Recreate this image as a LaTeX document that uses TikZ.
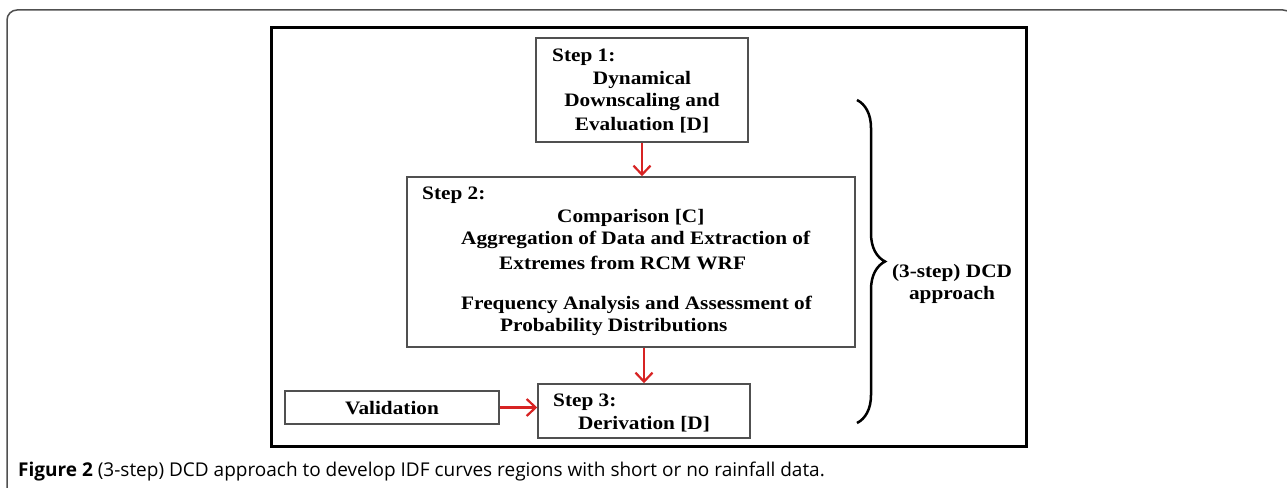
\documentclass[tikz,border=0pt]{standalone}
\usepackage{fontspec}
\setmainfont{Liberation Serif}
\newfontfamily\boxfont[FakeStretch=1.12]{Liberation Serif}
\newfontfamily\capfont{Open Sans}
\usetikzlibrary{arrows.meta,decorations.pathreplacing}
\definecolor{boxgray}{RGB}{80,80,80}
\definecolor{arrowred}{RGB}{215,35,35}
\begin{document}
\begin{tikzpicture}[
x=1pt, y=-1pt,
box/.style={draw=boxgray, line width=1.5pt, rectangle, inner sep=0pt},
txt/.style={font=\boxfont\bfseries\fontsize{19}{22.5}\selectfont, inner sep=0pt},
redarrow/.style={draw=arrowred, line width=2.2pt, -{Straight Barb[length=9pt,width=17pt]}}
]
\clip (0,0) rectangle (1287,487);
\draw[boxgray, line width=1.5pt, rounded corners=10pt] (7,520) -- (7,10) -- (1293,10) -- (1293,520);
\draw[black, line width=3pt] (271,28) rectangle (1026,446);

\node (step1) [box, minimum width=212pt, minimum height=104pt] at (642,90) {};
\node (step2) [box, minimum width=448pt, minimum height=170pt] at (631,262) {};
\node (step3) [box, minimum width=212pt, minimum height=54pt] at (644,411) {};
\node (valid) [box, minimum width=214pt, minimum height=33pt] at (392,407.5) {};

\node (s1) [txt, anchor=west] at (552,57) {Step 1:};
\node (s1a) [txt] at (642,80) {Dynamical};
\node (s1b) [txt] at (642,102) {Downscaling and};
\node (s1c) [txt] at (642,125) {Evaluation [D]};

\node (s2) [txt, anchor=west] at (422,195) {Step 2:};
\node (s2a) [txt, anchor=west] at (557,218) {Comparison [C]};
\node (s2b) [txt, anchor=west] at (461,240) {Aggregation of Data and Extraction of};
\node (s2c) [txt, anchor=west] at (499,263) {Extremes from RCM WRF};
\node (s2d) [txt, anchor=west] at (461,305) {Frequency Analysis and Assessment of};
\node (s2e) [txt, anchor=west] at (500,327) {Probability Distributions};

\node (s3) [txt, anchor=west] at (553,402) {Step 3:};
\node (s3a) [txt] at (644,424) {Derivation [D]};

\node (v) [txt] at (392,408) {Validation};

\draw[redarrow] (step1.south) -- (step1.south |- step2.north);
\draw[redarrow] (step3.north |- step2.south) -- (step3.north);
\draw[redarrow] (valid.east) -- (valid.east -| step3.west);

\draw[decorate, decoration={brace, amplitude=28pt}, line width=2.5pt] (857,100) -- (857,423);
\node (dcd) [txt, align=center] at (952,284) {(3-step) DCD\\approach};

\node (cap) [anchor=base west, inner sep=0pt, font=\capfont\fontsize{19}{22}\selectfont] at (18,476) {\textbf{Figure 2} (3-step) DCD approach to develop IDF curves regions with short or no rainfall data.};
\end{tikzpicture}
\end{document}
